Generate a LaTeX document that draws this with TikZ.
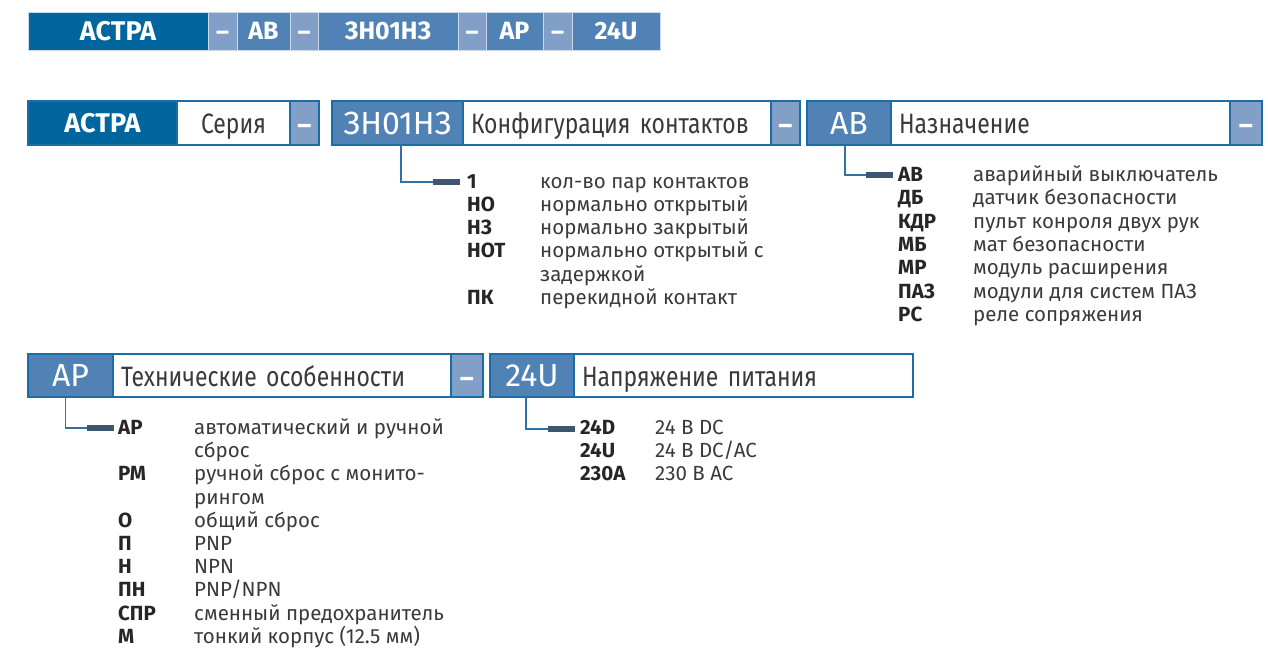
\documentclass[tikz,border=0pt]{standalone}
\usepackage{fontspec}
\setmainfont{Fira Sans}
\newfontfamily\capfont{Fira Sans}[FakeStretch=0.82, WordSpace=0.75]
\usetikzlibrary{positioning}

\definecolor{astra}{HTML}{01659E}
\definecolor{codeblue}{HTML}{5182B5}
\definecolor{dashblue}{HTML}{819FC7}
\definecolor{rimblue}{HTML}{1C6DA7}
\definecolor{linkblue}{HTML}{2F72A8}
\definecolor{markgray}{HTML}{3E5670}
\definecolor{txtgray}{HTML}{3A3A3A}

\tikzset{
  barcell/.style={fill=codeblue, draw=white!70!codeblue, line width=0.8pt, text=white, outer sep=0pt,
    font=\fontsize{25}{25}\selectfont\bfseries, minimum height=38pt, inner sep=0pt, anchor=west},
  bardash/.style={barcell, fill=dashblue, text height=20pt, text depth=0pt},
  codebox/.style={fill=codeblue, draw=rimblue, line width=1.2pt, text=white, outer sep=0pt,
    font=\fontsize{32}{32}\selectfont, minimum height=44pt, inner sep=0pt, anchor=north west},
  capbox/.style={fill=white, draw=rimblue, line width=1.2pt, text=txtgray, outer sep=0pt,
    font=\capfont\fontsize{28}{28}\selectfont, minimum height=44pt, inner xsep=8pt, inner ysep=0pt,
    align=left, text height=22pt, text depth=0pt},
  dashbox/.style={fill=dashblue, draw=rimblue, line width=1.2pt, text=white, outer sep=0pt,
    font=\fontsize{27}{27}\selectfont\bfseries, minimum height=44pt, inner sep=0pt,
    text height=24pt, text depth=0pt},
  link/.style={draw=linkblue, line width=1.4pt},
  marker/.style={fill=markgray, minimum width=27pt, minimum height=6pt, inner sep=0pt, anchor=west},
  lab/.style={font=\fontsize{20.5}{20.5}\selectfont\bfseries, text=black!85, inner sep=0pt, anchor=base west},
  desc/.style={font=\fontsize{20.5}{20.5}\selectfont, text=txtgray, inner sep=0pt, anchor=base west},
}

\begin{document}
\begin{tikzpicture}[x=1pt, y=-1pt]
    \useasboundingbox (0,0) rectangle (1268,650);

    % code bar on top
    \node[barcell, fill=astra, minimum width=180pt, font=\fontsize{27}{27}\selectfont\bfseries] (bar1) at (28,31) {АСТРА};
    \node[bardash, minimum width=29pt, right=0pt of bar1] (bar2) {–};
    \node[barcell, minimum width=53pt, right=0pt of bar2] (bar3) {АВ};
    \node[bardash, minimum width=28pt, right=0pt of bar3] (bar4) {–};
    \node[barcell, minimum width=140pt, right=0pt of bar4] (bar5) {ЗН01НЗ};
    \node[bardash, minimum width=28pt, right=0pt of bar5] (bar6) {–};
    \node[barcell, minimum width=57pt, right=0pt of bar6] (bar7) {АР};
    \node[bardash, minimum width=29pt, right=0pt of bar7] (bar8) {–};
    \node[barcell, minimum width=88pt, right=0pt of bar8] (bar9) {24U};

    % first row of fields
    \node[codebox, fill=astra, minimum width=149pt, font=\fontsize{27}{27}\selectfont\bfseries] (ser) at (28,101) {АСТРА};
    \node[capbox, text width=97pt, align=center, right=0pt of ser] (sercap) {Серия};
    \node[dashbox, minimum width=29pt, right=0pt of sercap] (serdash) {–};

    \node[codebox, minimum width=131pt] (cfg) at (332,101) {ЗН01НЗ};
    \node[capbox, text width=292pt, right=0pt of cfg] (cfgcap) {Конфигурация контактов};
    \node[dashbox, minimum width=29pt, right=0pt of cfgcap] (cfgdash) {–};

    \node[codebox, minimum width=84pt] (use) at (807,101) {АВ};
    \node[capbox, text width=323pt, right=0pt of use] (usecap) {Назначение};
    \node[dashbox, minimum width=32pt, right=0pt of usecap] (usedash) {–};

    % second row of fields
    \node[codebox, minimum width=85pt, minimum height=43pt] (feat) at (28,354) {АР};
    \node[capbox, text width=322pt, minimum height=43pt, right=0pt of feat] (featcap) {Технические особенности};
    \node[dashbox, minimum width=32pt, minimum height=43pt, right=0pt of featcap] (featdash) {–};

    \node[codebox, minimum width=84pt, minimum height=43pt] (pwr) at (490,354) {24U};
    \node[capbox, text width=323pt, minimum height=43pt, right=0pt of pwr] (pwrcap) {Напряжение питания};

    % contact configuration
    \node[marker] (cfgmark) at (433,182) {};
    \draw[link] ([xshift=3.5pt]cfg.south) |- (cfgmark.west);
    \foreach \l/\d [count=\i from 0] in {1/кол-во пар контактов, НО/нормально открытый,
        НЗ/нормально закрытый, НОТ/нормально открытый с, /задержкой, ПК/перекидной контакт}{
      \node[lab] (cfgl\i) at (467,188+23.3*\i) {\l};
      \node[desc] (cfgd\i) at (540,188+23.3*\i) {\d};
    }

    % purpose
    \node[marker] (usemark) at (866,175) {};
    \draw[link] ([xshift=-4pt]use.south) |- (usemark.west);
    \foreach \l/\d [count=\i from 0] in {АВ/аварийный выключатель, ДБ/датчик безопасности,
        КДР/пульт конроля двух рук, МБ/мат безопасности, МР/модуль расширения,
        ПАЗ/модули для систем ПАЗ, РС/реле сопряжения}{
      \node[lab] (usel\i) at (898,181.5+23.3*\i) {\l};
      \node[desc] (used\i) at (973,181.5+23.3*\i) {\d};
    }

    % features
    \node[marker] (featmark) at (87,428) {};
    \draw[link] ([xshift=-5pt]feat.south) |- (featmark.west);
    \foreach \l/\d [count=\i from 0] in {АР/автоматический и ручной, /сброс,
        РМ/ручной сброс с монито-, /рингом, О/общий сброс, П/PNP, Н/NPN,
        ПН/{PNP/NPN}, СПР/сменный предохранитель, М/тонкий корпус (12.5 мм)}{
      \node[lab] (featl\i) at (118,434.5+23.2*\i) {\l};
      \node[desc] (featd\i) at (194,434.5+23.2*\i) {\d};
    }

    % supply voltage
    \node[marker] (pwrmark) at (548,429) {};
    \draw[link] ([xshift=-6pt]pwr.south) |- (pwrmark.west);
    \foreach \l/\d [count=\i from 0] in {24D/24 В DC, 24U/{24 В DC/AC}, 230A/230 В AC}{
      \node[lab] (pwrl\i) at (580,434.5+23.2*\i) {\l};
      \node[desc] (pwrd\i) at (655,434.5+23.2*\i) {\d};
    }
\end{tikzpicture}
\end{document}
